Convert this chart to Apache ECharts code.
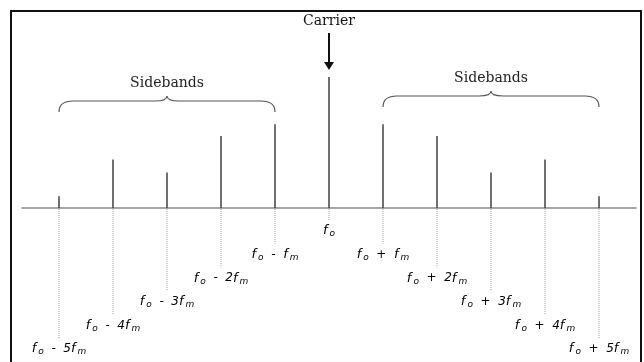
<!DOCTYPE html>
<html>
<head>
<meta charset="utf-8">
<script src="https://cdn.jsdelivr.net/npm/echarts@6/dist/echarts.min.js"></script>
<style>
html, body { margin: 0; padding: 0; background: #fff; }
#chart { width: 644px; height: 362px; }
</style>
</head>
<body>
<div id="chart"></div>
<script>
// harmonic index n (fo + n*fm) and relative line heights
const harmonics = [-5, -4, -3, -2, -1, 0, 1, 2, 3, 4, 5];
const amplitudes = [0.09, 0.37, 0.27, 0.55, 0.64, 1.00, 0.64, 0.55, 0.27, 0.37, 0.09];
const tickLabels = ['fo - 5fm', 'fo - 4fm', 'fo - 3fm', 'fo - 2fm', 'fo - fm', 'fo',
                    'fo + fm', 'fo + 2fm', 'fo + 3fm', 'fo + 4fm', 'fo + 5fm'];

const bandNames = ['Sidebands', 'Sidebands'];
const bandFrom = [-5, 1];
const bandTo = [-1, 5];
const bandLevel = [0.733, 0.771];

const carrierName = 'Carrier';

// 'fo - 5fm' -> rich text with subscripts
const toRich = s => s
    .replace(/ /g, '  ')
    .replace(/f([om])/g, '{f|f}{s|$1}')
    .replace(/\}([^{]+)\{/g, '}{t|$1}{');

const labelRich = {
    f: { fontFamily: 'DejaVu Sans', fontStyle: 'italic', fontSize: 13, lineHeight: 15, color: '#111', padding: [0, 2, 0, 0] },
    s: { fontFamily: 'DejaVu Sans', fontStyle: 'italic', fontSize: 9, lineHeight: 14, verticalAlign: 'bottom', color: '#111' },
    t: { fontFamily: 'DejaVu Sans', fontStyle: 'italic', fontSize: 12, lineHeight: 15, color: '#111' }
};

const chartDom = document.getElementById('chart');
const myChart = echarts.init(chartDom);

const option = {
    animation: false,
    grid: { left: 22, right: 8, top: 0, bottom: 0, containLabel: false },
    xAxis: {
        type: 'value',
        min: -5.685,
        max: 5.685,
        axisLine: { show: true, onZero: true, lineStyle: { color: '#8a8a8a', width: 1.5 } },
        axisTick: { show: false },
        axisLabel: { show: false },
        splitLine: { show: false }
    },
    yAxis: {
        type: 'value',
        min: -1.176,
        max: 1.588,
        show: false,
        splitLine: { show: false }
    },
    graphic: [
        {
            type: 'rect',
            shape: { x: 11, y: 11, width: 630, height: 400 },
            style: { fill: null, stroke: '#111', lineWidth: 2 },
            z: 10
        }
    ],
    series: [
        {
            name: 'lines',
            type: 'custom',
            data: harmonics.map((h, i) => [h, amplitudes[i]]),
            renderItem: (params, api) => {
                const h = api.value(0);
                const base = api.coord([h, 0]);
                const top = api.coord([h, api.value(1)]);
                const drop = 12 + 23.6 * Math.abs(h);
                return {
                    type: 'group',
                    children: [
                        {
                            type: 'line',
                            shape: { x1: base[0], y1: top[1], x2: base[0], y2: base[1] },
                            style: { stroke: '#404040', lineWidth: 1.5 }
                        },
                        {
                            type: 'line',
                            shape: { x1: base[0], y1: base[1] + 1, x2: base[0], y2: base[1] + drop },
                            style: { stroke: '#9a9a9a', lineWidth: 1, lineDash: [1, 1] }
                        },
                        {
                            type: 'text',
                            x: base[0],
                            y: base[1] + drop + 11,
                            style: {
                                text: toRich(tickLabels[params.dataIndex]),
                                rich: labelRich,
                                align: 'center',
                                verticalAlign: 'middle'
                            }
                        }
                    ]
                };
            }
        },
        {
            name: 'bands',
            type: 'custom',
            data: bandFrom.map((f, i) => [f, bandTo[i], bandLevel[i]]),
            renderItem: (params, api) => {
                const p0 = api.coord([api.value(0), api.value(2)]);
                const p1 = api.coord([api.value(1), api.value(2)]);
                const x0 = p0[0], x1 = p1[0], y0 = p0[1];
                const yH = y0 - 11, yT = y0 - 16;
                const xm = (x0 + x1) / 2;
                const d = `M${x0},${y0} Q${x0},${yH} ${x0 + 14},${yH} L${xm - 12},${yH} ` +
                          `Q${xm},${yH} ${xm},${yT} Q${xm},${yH} ${xm + 12},${yH} ` +
                          `L${x1 - 14},${yH} Q${x1},${yH} ${x1},${y0}`;
                return {
                    type: 'group',
                    children: [
                        {
                            type: 'path',
                            shape: { pathData: d },
                            style: { fill: null, stroke: '#555', lineWidth: 1.2 }
                        },
                        {
                            type: 'text',
                            x: xm,
                            y: yT - 13,
                            style: {
                                text: bandNames[params.dataIndex],
                                fontFamily: 'DejaVu Serif',
                                fontSize: 14,
                                fill: '#222',
                                align: 'center',
                                verticalAlign: 'middle'
                            }
                        }
                    ]
                };
            }
        },
        {
            name: 'carrier',
            type: 'custom',
            data: [[harmonics[5], amplitudes[5]]],
            renderItem: (params, api) => {
                const top = api.coord([api.value(0), api.value(1)]);
                const x = top[0], y = top[1];
                return {
                    type: 'group',
                    children: [
                        {
                            type: 'line',
                            shape: { x1: x, y1: y - 44, x2: x, y2: y - 13 },
                            style: { stroke: '#111', lineWidth: 2 }
                        },
                        {
                            type: 'polygon',
                            shape: { points: [[x - 5, y - 15], [x + 5, y - 15], [x, y - 7]] },
                            style: { fill: '#111' }
                        },
                        {
                            type: 'text',
                            x: x,
                            y: y - 56,
                            style: {
                                text: carrierName,
                                fontFamily: 'DejaVu Serif',
                                fontSize: 14,
                                fill: '#111',
                                align: 'center',
                                verticalAlign: 'middle'
                            }
                        }
                    ]
                };
            }
        }
    ]
};

option && myChart.setOption(option);
</script>
</body>
</html>
